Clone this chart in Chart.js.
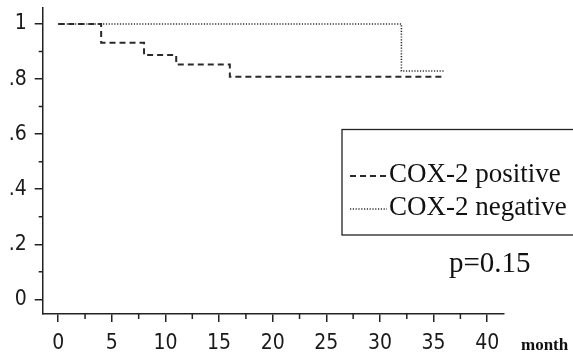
<!DOCTYPE html>
<html>
<head>
<meta charset="utf-8">
<script src="https://cdn.jsdelivr.net/npm/chart.js@4.4.1/dist/chart.umd.min.js"></script>
<style>
  html, body { margin: 0; padding: 0; background: #fff; }
  #wrap { width: 573px; height: 356px; }
</style>
</head>
<body>
<div id="wrap"><canvas id="km" width="573" height="356"></canvas></div>
<script>
// Kaplan-Meier curves (months, survival)
const posTimes = [0, 4, 8, 11, 16, 36];
const posSurv  = [1, 0.932, 0.887, 0.853, 0.808, 0.808];
const negTimes = [0, 32, 36];
const negSurv  = [1, 0.829, 0.829];

const seriesLabels = ['COX-2 positive', 'COX-2 negative'];
const pValueText = 'p=0.15';
const xTitle = 'month';

const xTicks = [0, 5, 10, 15, 20, 25, 30, 35, 40];
const xMinor = [2.5, 7.5, 12.5, 17.5, 22.5, 27.5, 32.5, 37.5];
const yTicks = [0, 0.2, 0.4, 0.6, 0.8, 1];
const yTickLabels = ['0', '.2', '.4', '.6', '.8', '1'];
const yMinor = [0.1, 0.3, 0.5, 0.7, 0.9];

const ink = '#222';
const narrow = "'Liberation Sans Narrow', 'DejaVu Sans Condensed', 'Roboto Condensed', sans-serif";
const serif = "'Liberation Serif', 'DejaVu Serif', serif";

function toPoints(xs, ys) {
    return xs.map((x, i) => ({ x: x, y: ys[i] }));
}

// short minor ticks, legend box, p-value and axis title
const extrasPlugin = {
    id: 'extras',
    afterDraw(chart) {
        const ctx = chart.ctx;
        const xs = chart.scales.x, ys = chart.scales.y;
        ctx.save();
        ctx.strokeStyle = ink;
        ctx.lineWidth = 1.5;
        ctx.beginPath();
        xMinor.forEach(v => {
            const px = xs.getPixelForValue(v);
            ctx.moveTo(px, xs.top);
            ctx.lineTo(px, xs.top + 5);
        });
        yMinor.forEach(v => {
            const py = ys.getPixelForValue(v);
            ctx.moveTo(ys.right, py);
            ctx.lineTo(ys.right - 4, py);
        });
        ctx.stroke();

        // legend box (runs off the right edge like the original)
        ctx.lineWidth = 1.3;
        ctx.strokeRect(342, 129.5, 260, 105.5);

        const rows = [175, 208];
        chart.data.datasets.forEach((ds, i) => {
            ctx.save();
            ctx.strokeStyle = ds.borderColor;
            ctx.lineWidth = ds.borderWidth;
            ctx.setLineDash(ds.borderDash);
            ctx.beginPath();
            ctx.moveTo(350, rows[i] + 1);
            ctx.lineTo(387, rows[i] + 1);
            ctx.stroke();
            ctx.restore();
            ctx.fillStyle = '#111';
            ctx.font = '27px ' + serif;
            ctx.textBaseline = 'middle';
            ctx.textAlign = 'left';
            ctx.fillText(ds.label, 389, rows[i]);
        });

        ctx.font = '29px ' + serif;
        ctx.fillText(pValueText, 449, 264);

        ctx.font = 'bold 17px ' + serif;
        ctx.fillText(xTitle, 521, 346);
        ctx.restore();
    }
};

new Chart(document.getElementById('km'), {
    type: 'line',
    data: {
        datasets: [{
            label: seriesLabels[0],
            data: toPoints(posTimes, posSurv),
            borderColor: '#2a2a2a',
            borderWidth: 2,
            borderDash: [6, 4],
            stepped: 'before',
            pointRadius: 0,
            fill: false
        }, {
            label: seriesLabels[1],
            data: toPoints(negTimes, negSurv),
            borderColor: '#2e2e2e',
            borderWidth: 1.6,
            borderDash: [1.2, 1.6],
            stepped: 'before',
            pointRadius: 0,
            fill: false
        }]
    },
    options: {
        responsive: false,
        animation: false,
        layout: { padding: { top: 8, right: 69.7, left: 0, bottom: 0 } },
        plugins: {
            legend: { display: false },
            tooltip: { enabled: false }
        },
        scales: {
            x: {
                type: 'linear',
                min: -1.45,
                max: 41.5,
                afterBuildTicks: s => { s.ticks = xTicks.map(v => ({ value: v })); },
                afterFit: s => { s.height = 42; s.paddingLeft = 0; s.paddingRight = 0; },
                border: { color: ink, width: 1.5 },
                grid: { drawOnChartArea: false, drawTicks: true, tickLength: 8, color: ink, lineWidth: 1.5 },
                ticks: {
                    color: '#1a1a1a',
                    padding: 9,
                    maxRotation: 0,
                    autoSkip: false,
                    font: { family: narrow, size: 21 },
                    callback: v => String(v)
                }
            },
            y: {
                type: 'linear',
                min: -0.053,
                max: 1.058,
                afterBuildTicks: s => { s.ticks = yTicks.map(v => ({ value: v })); },
                afterFit: s => { s.width = 42.7; s.paddingTop = 0; s.paddingBottom = 0; },
                border: { color: ink, width: 1.5 },
                grid: { drawOnChartArea: false, drawTicks: true, tickLength: 8, color: ink, lineWidth: 1.5 },
                ticks: {
                    color: '#1a1a1a',
                    padding: 8,
                    autoSkip: false,
                    font: { family: narrow, size: 21 },
                    callback: v => yTickLabels[yTicks.indexOf(v)]
                }
            }
        }
    },
    plugins: [extrasPlugin]
});
</script>
</body>
</html>
